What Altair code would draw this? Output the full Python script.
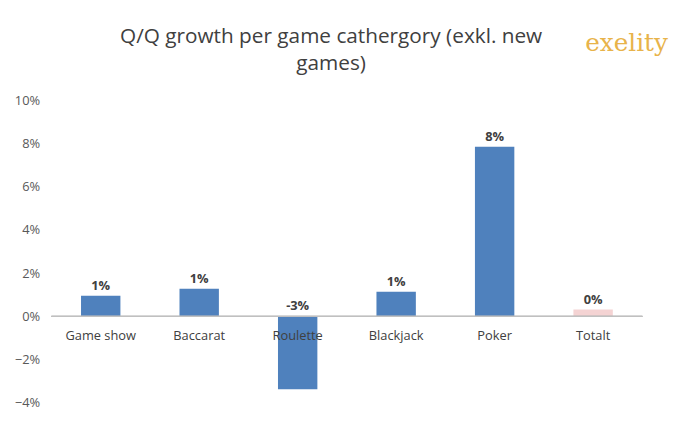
import altair as alt
import pandas as pd

categories = ["Game show", "Baccarat", "Roulette", "Blackjack", "Poker", "Totalt"]
growth = [0.0096, 0.0128, -0.0338, 0.0114, 0.0785, 0.0032]
labels = ["1%", "1%", "-3%", "1%", "8%", "0%"]
bar_colors = ["#4F81BD", "#4F81BD", "#4F81BD", "#4F81BD", "#4F81BD", "#F4D3D3"]
title_lines = ["Q/Q growth per game cathergory (exkl. new", "games)"]

df = pd.DataFrame({"cat": categories, "v": growth, "lab": labels, "col": bar_colors})
df["pos"] = df["v"].clip(lower=0)

x = alt.X("cat:N", sort=categories, axis=None, scale=alt.Scale(paddingInner=0.6, paddingOuter=0.3))
y = alt.Y("v:Q", scale=alt.Scale(domain=[-0.04, 0.10]),
          axis=alt.Axis(format=".0%", values=[-0.04, -0.02, 0, 0.02, 0.04, 0.06, 0.08, 0.10],
                        grid=False, domain=False, ticks=False, labelColor="#595959",
                        labelFontSize=13, labelPadding=12, title=None, labelFont="Open Sans"))

base = alt.Chart(df)
bars = base.mark_bar().encode(x=x, y=y, color=alt.Color("col:N", scale=None))
zero = base.mark_rule(color="#BFBFBF").encode(y=alt.datum(0), x=alt.value(0), x2=alt.value(598))
values = base.mark_text(dy=-10, fontWeight="bold", fontSize=13, color="#404040", font="Open Sans").encode(
    x=x, y=alt.Y("pos:Q"), text="lab:N")
cat_labels = base.mark_text(dy=20, fontSize=13, color="#404040", font="Open Sans").encode(
    x=x, y=alt.datum(0), text="cat:N")
logo = alt.Chart(pd.DataFrame({"t": ["exelity"]})).mark_text(
    fontSize=25, color="#E8B34A", font="DejaVu Serif", align="center"
).encode(x=alt.value(582), y=alt.value(-58), text="t:N")
title = alt.Chart(pd.DataFrame({"t": title_lines, "yy": [-64, -37]})).mark_text(
    fontSize=21, color="#404040", font="Open Sans", align="center"
).encode(x=alt.value(283), y=alt.Y("yy:Q", scale=None), text="t:N")

chart = (bars + zero + values + cat_labels + logo + title).properties(
    width=598, height=306,
    autosize=alt.AutoSizeParams(type="none"),
    padding={"left": 44, "top": 91, "right": 30, "bottom": 20},
).configure_view(stroke=None)

chart.save("out.html", embed_options={"renderer": "svg", "actions": False})
